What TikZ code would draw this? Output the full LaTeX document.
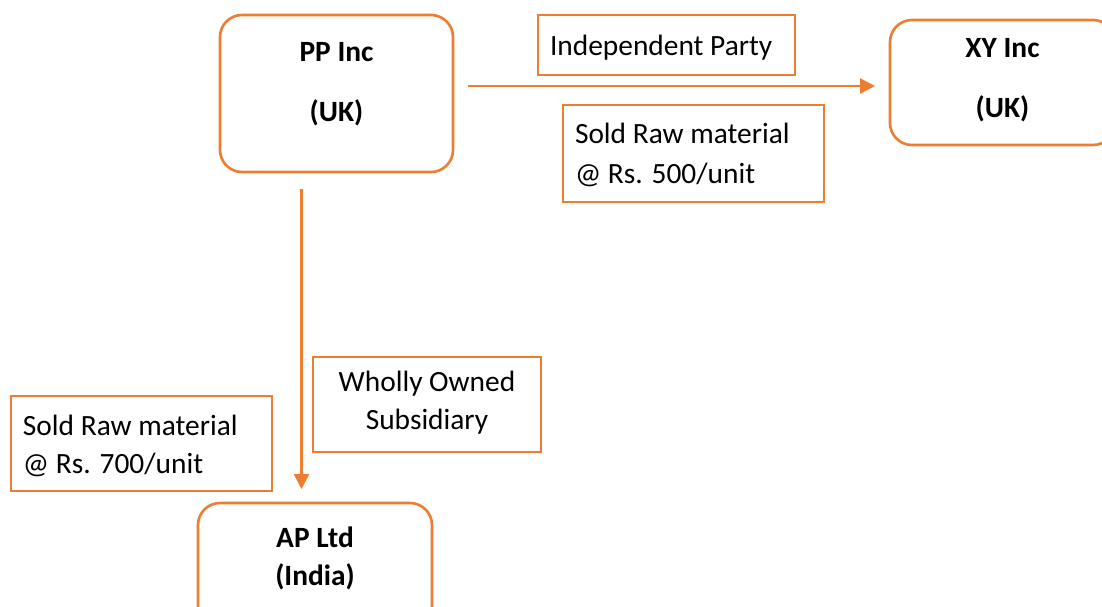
\documentclass[tikz,border=0pt]{standalone}
\usepackage{fontspec}
\setmainfont{Carlito}
\usetikzlibrary{arrows.meta}
\definecolor{acc}{HTML}{ED7D31}
\tikzset{
  base/.style={draw=acc, line width=2.6pt, inner sep=0pt, outer sep=0pt,
    font=\fontsize{29.4}{38}\selectfont, text=black},
  rbox/.style={base, rounded corners=22pt, align=center, font=\fontsize{29.4}{38}\selectfont\bfseries},
  sbox/.style={base, rectangle},
  struts/.style 2 args={execute at begin node={\rule{0pt}{#1}}, execute at end node={\rule[-#2]{0pt}{#2}}},
  arr/.style={draw=acc, line width=2.6pt, -{Triangle[length=15pt,width=15pt]}}
}
\begin{document}
\begin{tikzpicture}[x=1pt,y=-1pt]
\useasboundingbox (0,0) rectangle (1102,606);
\clip (0,0) rectangle (1102,606);
\fill[white] (0,0) rectangle (1102,606);
% company boxes
\node[rbox, struts={20pt}{23pt}, minimum width=233pt, minimum height=157pt] (PP) at (336.5,93.5) {PP Inc\\[22pt](UK)};
\node[rbox, struts={35pt}{10pt}, minimum width=225pt, minimum height=125pt] (XY) at (1002.5,82.5) {XY Inc\\[22pt](UK)};
\node[rbox, struts={20pt}{19pt}, minimum width=234pt, minimum height=125pt] (AP) at (315,565.5) {AP Ltd\\(India)};
% label boxes
\node[sbox, struts={28pt}{8pt}, minimum width=257pt, minimum height=60pt, text width=233pt, inner xsep=12pt, align=flush left] (IP) at (666.5,45) {Independent Party};
\node[sbox, struts={28pt}{9pt}, minimum width=261pt, minimum height=97pt, text width=237pt, inner xsep=12pt, align=flush left] (S5) at (693.5,153.5) {Sold Raw material\\[2pt]@ Rs. 500/unit};
\node[sbox, struts={28pt}{9pt}, minimum width=228pt, minimum height=95pt, align=center] (WO) at (427,404.5) {Wholly Owned\\Subsidiary};
\node[sbox, struts={28pt}{7pt}, minimum width=261pt, minimum height=95pt, text width=237pt, inner xsep=12pt, align=flush left] (S7) at (141.5,443.5) {Sold Raw material\\@ Rs. 700/unit};
% connectors
\draw[arr, shorten <=15pt, shorten >=15pt] ([yshift=7.5pt]PP.east) -- ([yshift=7.5pt]PP.east -| XY.west);
\draw[arr, shorten <=17pt, shorten >=14pt] ([xshift=-35pt]PP.south) -- ([xshift=-35pt]PP.south |- AP.north);
\end{tikzpicture}
\end{document}
